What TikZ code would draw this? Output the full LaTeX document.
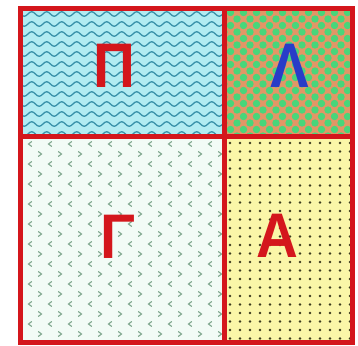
\documentclass[tikz,border=0pt]{standalone}
\usepackage{fontspec}
\setmainfont{Liberation Sans}
\usetikzlibrary{positioning,decorations.pathmorphing}
\definecolor{myRed}{RGB}{212,22,28}
\definecolor{myBlue}{RGB}{40,60,200}
\definecolor{myCyan}{RGB}{178,236,242}
\definecolor{myTeal}{RGB}{58,146,170}
\definecolor{myOrange}{RGB}{226,150,102}
\definecolor{myGreen}{RGB}{72,214,122}
\definecolor{myMint}{RGB}{242,251,246}
\definecolor{myChevron}{RGB}{125,165,140}
\definecolor{myYellow}{RGB}{250,246,168}
\definecolor{myDot}{RGB}{58,58,30}
\tikzset{
  letter/.style={font=\bfseries\fontsize{63}{63}\selectfont, inner sep=0pt,
    anchor=base, xscale=0.92},
  frame/.style={draw=myRed, line width=5pt},
  wave/.style={draw=myTeal, line width=1.3pt, decorate,
    decoration={snake, segment length=15pt, amplitude=2.3pt}},
  chevron/.style={draw=myChevron, line width=1.1pt}
}

\begin{document}
\begin{tikzpicture}[x=1pt,y=-1pt]
  \useasboundingbox (0,0) rectangle (358,345);
  \coordinate (nw) at (20,9);
  \coordinate (se) at (352,342);
  \coordinate (mid) at (224,136);
  \coordinate (n) at (224,9);
  \coordinate (s) at (224,342);
  \coordinate (w) at (20,136);
  \coordinate (e) at (352,136);
  % top left: waves
  \begin{scope}
    \clip (nw) rectangle (mid);
    \fill[myCyan] (nw) rectangle (mid);
    \foreach \y in {14,24,...,134}
      \draw[wave] (12,\y) -- (232,\y);
  \end{scope}
  % top right: green spots
  \begin{scope}
    \clip (n) rectangle (e);
    \fill[myOrange] (n) rectangle (e);
    \foreach \x in {224,237,...,360}
      \foreach \y in {6,19,...,140} {
        \fill[myGreen] (\x,\y) circle [radius=3.7];
        \fill[myGreen] (\x+6.5,\y+6.5) circle [radius=3.7];
      }
  \end{scope}
  % bottom left: chevrons
  \begin{scope}
    \clip (w) rectangle (s);
    \fill[myMint] (w) rectangle (s);
    \foreach \y [count=\j] in {144,154,...,344}
      \foreach \x in {30,50,...,230} {
        \ifodd\j
          \draw[chevron] (\x+1.8,\y-2.5) -- (\x-1.5,\y) -- (\x+1.8,\y+2.5);
        \else
          \draw[chevron] (\x-11.8,\y-2.5) -- (\x-8.5,\y) -- (\x-11.8,\y+2.5);
        \fi
      }
  \end{scope}
  % bottom right: dots
  \begin{scope}
    \clip (mid) rectangle (se);
    \fill[myYellow] (mid) rectangle (se);
    \foreach \x in {230,240,...,350}
      \foreach \y in {143,151.5,...,342}
        \fill[myDot] (\x,\y) circle [radius=1.4];
  \end{scope}
  \node[letter, myRed] (pi) at (114,87) {Π};
  \node[letter, myBlue] (lambda) at (290,87) {Λ};
  \node[letter, myRed] (gamma) at (118,258) {Γ};
  \node[letter, myRed] (alpha) at (277,257) {Α};
  \draw[frame] (nw) rectangle (se);
  \draw[frame] (n) -- (s);
  \draw[frame] (w) -- (e);
\end{tikzpicture}
\end{document}
